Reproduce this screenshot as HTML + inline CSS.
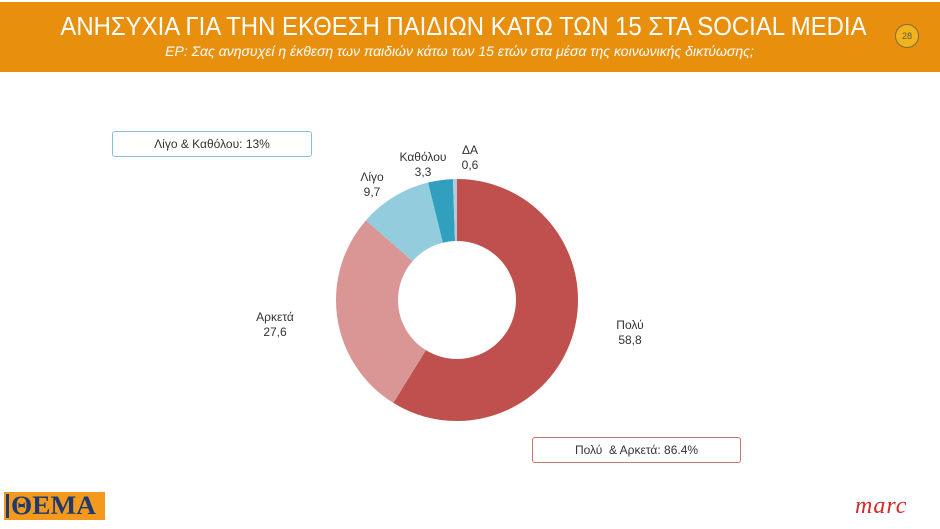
<!DOCTYPE html>
<html><head><meta charset="utf-8"><style>
body{margin:0;width:940px;height:529px;background:#fff;position:relative;overflow:hidden;font-family:"Liberation Sans",sans-serif}
.hdr{position:absolute;left:0;top:2px;width:940px;height:70px;background:#E8900E}
.t{position:absolute;left:0;width:920px;text-align:center;color:#fff;white-space:nowrap}
.lbl{position:absolute;font-size:12px;color:#333;text-align:center;line-height:15px}
.box{position:absolute;font-size:12px;color:#333;background:#fff;border-radius:3px;text-align:center;line-height:24px}
</style></head><body>
<div class="hdr"></div>
<div class="t" style="top:11px;font-size:26px;left:0;width:927px;transform:scaleX(0.92);transform-origin:463px 0">ΑΝΗΣΥΧΙΑ ΓΙΑ ΤΗΝ ΕΚΘΕΣΗ ΠΑΙΔΙΩΝ ΚΑΤΩ ΤΩΝ 15 ΣΤΑ SOCIAL MEDIA</div>
<div class="t" style="top:43px;font-size:14px;font-style:italic;left:0;width:919px">ΕΡ: Σας ανησυχεί η έκθεση των παιδιών κάτω των 15 ετών στα μέσα της κοινωνικής δικτύωσης;</div>
<div style="position:absolute;left:895px;top:24px;width:22px;height:22px;border-radius:50%;background:#F3B41A;border:1px solid #7a6a50;font-size:9px;line-height:22px;text-align:center;color:#555">28</div>
<svg style="position:absolute;left:0;top:0" width="940" height="529">
<g transform="rotate(-90 457 300)" fill="none" stroke-width="62">
<circle cx="457" cy="300" r="90" stroke="#C0504D" stroke-dasharray="332.5 600" stroke-dashoffset="0"/>
<circle cx="457" cy="300" r="90" stroke="#D99694" stroke-dasharray="156.1 600" stroke-dashoffset="-332.5"/>
<circle cx="457" cy="300" r="90" stroke="#93CDDD" stroke-dasharray="54.9 600" stroke-dashoffset="-488.6"/>
<circle cx="457" cy="300" r="90" stroke="#31A0BE" stroke-dasharray="18.7 600" stroke-dashoffset="-543.5"/>
<circle cx="457" cy="300" r="90" stroke="#B7C9D6" stroke-dasharray="3.4 600" stroke-dashoffset="-562.2"/>
</g>
</svg>
<div class="lbl" style="left:600px;top:318px;width:60px">Πολύ<br>58,8</div>
<div class="lbl" style="left:245px;top:310px;width:60px">Αρκετά<br>27,6</div>
<div class="lbl" style="left:352px;top:170px;width:40px">Λίγο<br>9,7</div>
<div class="lbl" style="left:393px;top:150px;width:60px">Καθόλου<br>3,3</div>
<div class="lbl" style="left:455px;top:143px;width:30px">ΔΑ<br>0,6</div>
<div class="box" style="left:112px;top:131px;width:198px;height:24px;border:1px solid #7EC3D6">Λίγο &amp; Καθόλου: 13%</div>
<div class="box" style="left:532px;top:437px;width:207px;height:24px;border:1px solid #C97471">Πολύ &nbsp;&amp; Αρκετά: 86.4%</div>
<div style="position:absolute;left:4px;top:492px;width:101px;height:28px;background:#F39A1E"></div>
<div style="position:absolute;left:6px;top:494px;width:3px;height:24px;background:#1E3A6E"></div>
<div style="position:absolute;left:11px;top:492px;font-family:'Liberation Serif',serif;font-weight:bold;font-size:26px;color:#1E3A6E;line-height:28px;transform:scaleX(1.05);transform-origin:0 0">ΘΕΜΑ</div>
<div style="position:absolute;left:855px;top:494px;font-family:'Liberation Serif',serif;font-style:italic;font-size:24px;color:#D02A2A;line-height:24px;letter-spacing:1px">marc</div>
</body></html>
